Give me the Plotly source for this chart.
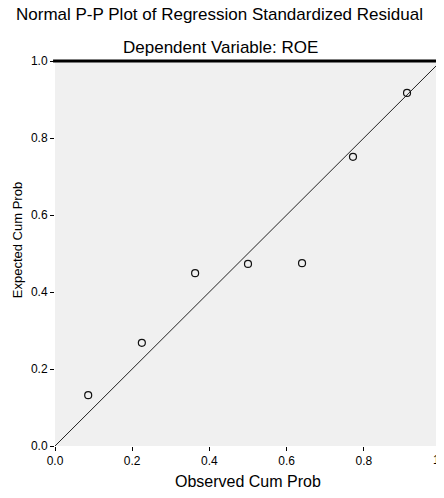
import plotly.graph_objects as go

# Data
observed_cum_prob = [0.086, 0.225, 0.363, 0.500, 0.640, 0.772, 0.912]
expected_cum_prob = [0.132, 0.268, 0.449, 0.473, 0.475, 0.751, 0.917]
tick_vals = [0.0, 0.2, 0.4, 0.6, 0.8, 1.0]
tick_text = ["0.0", "0.2", "0.4", "0.6", "0.8", "1.0"]
title_text = "Normal P-P Plot of Regression Standardized Residual"
subtitle_text = "Dependent Variable: ROE"
x_title = "Observed Cum Prob"
y_title = "Expected Cum Prob"

FONT = "Arial, 'Liberation Sans', sans-serif"

fig = go.Figure()
fig.add_trace(go.Scatter(
    x=[0, 1], y=[0, 1], mode="lines",
    line=dict(color="#222222", width=1), hoverinfo="skip", showlegend=False))
fig.add_trace(go.Scatter(
    x=observed_cum_prob, y=expected_cum_prob, mode="markers",
    marker=dict(symbol="circle-open", size=7, color="#111111", line=dict(width=1.2)),
    showlegend=False))

axis_common = dict(
    range=[0, 1], tickvals=tick_vals, ticktext=tick_text,
    ticks="outside", ticklen=4, tickcolor="#000000", tickwidth=1,
    showgrid=False, zeroline=False, showline=False, automargin=False,
    tickfont=dict(family=FONT, size=12, color="#000000"),
)
fig.update_xaxes(**axis_common)
fig.update_yaxes(**axis_common)

# page body has an 8px margin, so the figure is sized and offset to compensate
fig.update_layout(
    width=436, height=490,
    margin=dict(l=47, r=3, t=53, b=52, autoexpand=False),
    paper_bgcolor="white", plot_bgcolor="#f0f0f0",
    font=dict(family=FONT, color="#000000"),
    shapes=[
        dict(type="line", xref="paper", yref="paper", x0=-0.005, x1=1.02, y0=1, y1=1,
             line=dict(color="#000000", width=3)),
        dict(type="line", xref="paper", yref="paper", x0=1, x1=1, y0=0, y1=1,
             line=dict(color="#b0b0b0", width=1)),
    ],
    annotations=[
        dict(text=title_text, xref="paper", yref="paper", x=0.425, y=1.12,
             showarrow=False, xanchor="center", yanchor="middle",
             font=dict(family=FONT, size=17, color="#000000")),
        dict(text=subtitle_text, xref="paper", yref="paper", x=0.43, y=1.036,
             showarrow=False, xanchor="center", yanchor="middle",
             font=dict(family=FONT, size=17, color="#000000")),
        dict(text=x_title, xref="paper", yref="paper", x=0.5, y=-0.0935,
             showarrow=False, xanchor="center", yanchor="middle",
             font=dict(family=FONT, size=16, color="#000000")),
        dict(text=y_title, xref="paper", yref="paper", x=-0.098, y=0.535,
             showarrow=False, xanchor="center", yanchor="middle", textangle=-90,
             font=dict(family=FONT, size=13, color="#000000")),
        # last x tick label (partly beyond the right edge, as in the reference)
        dict(text=tick_text[-1], xref="x", yref="paper", x=tick_vals[-1], y=0,
             showarrow=False, xanchor="center", yanchor="top", yshift=-5,
             font=dict(family=FONT, size=12, color="#000000")),
    ],
)

fig.write_html("out.html")
